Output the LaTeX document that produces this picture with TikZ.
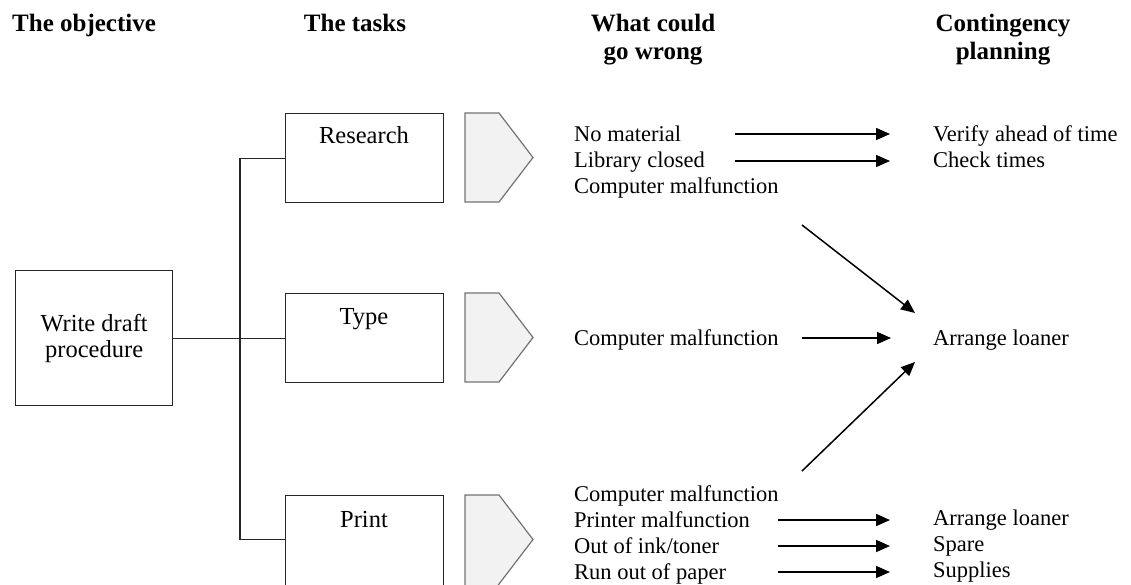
\documentclass[tikz,border=0pt]{standalone}
\usepackage{fontspec}
\setmainfont{Liberation Serif}
\usetikzlibrary{arrows.meta}
\begin{document}
\begin{tikzpicture}[x=1pt,y=-1pt,
  hdr/.style={font=\fontsize{25}{29}\selectfont\bfseries, anchor=base, inner sep=0pt},
  item/.style={font=\fontsize{22.5}{26}\selectfont, anchor=base west, inner sep=0pt},
  boxtext/.style={font=\fontsize{24.5}{28}\selectfont, anchor=base, inner sep=0pt},
  taskbox/.style={draw=black!85, line width=1.3pt, minimum width=158pt, minimum height=89pt,
                  inner sep=0pt, anchor=north west},
  link/.style={draw=black!85, line width=1.2pt},
  arr/.style={draw=black, line width=1.5pt, -{Triangle[length=14pt,width=12pt]}},
  pent/.style={draw=black!55, fill=black!5, line width=1.2pt, line join=miter}]

\useasboundingbox (0,0) rectangle (1131,584);
\clip (0,0) rectangle (1131,584);

% column headings
\node[hdr, anchor=base west] (hObj) at (12,31) {The objective};
\node[hdr] (hTask) at (355,31) {The tasks};
\node[hdr] (hWrong1) at (653,31) {What could};
\node[hdr] (hWrong2) at (653,59) {go wrong};
\node[hdr] (hPlan1) at (1003,31) {Contingency};
\node[hdr] (hPlan2) at (1003,59) {planning};

% objective and tasks
\node[draw=black!85, line width=1.3pt, minimum width=157pt, minimum height=135pt,
      anchor=north west, inner sep=0pt, align=center,
      font=\fontsize{24.5}{26}\selectfont] (write) at (15,270) {Write draft\\procedure};
\node[taskbox] (research) at (285,113) {};
\node[taskbox] (type) at (285,293) {};
\node[taskbox, minimum height=100pt] (print) at (285,495) {};
\node[boxtext] (researchT) at (364,143) {Research};
\node[boxtext] (typeT) at (364,324) {Type};
\node[boxtext] (printT) at (364,527) {Print};

% tree connectors
\coordinate (trunk) at (240,0);
\coordinate (printIn) at ([yshift=-44.5pt]print.north west);
\draw[link] (write.east) -- (type.west);
\draw[link] (research.west) -| (trunk |- printIn) -- (printIn);

% pentagon markers (the last one runs off the lower edge)
\foreach \py in {113,293}{
  \draw[pent] (465,\py) -- ++(34,0) -- ++(34,44.5) -- ++(-34,44.5) -- ++(-34,0) -- cycle;
}
\draw[pent] (465,495) -- ++(34,0) -- ++(34,44.5) -- ++(-34,44.5) -- ++(-4,6) -- (465,590) -- cycle;

% what could go wrong
\node[item] (w1) at (574,141) {No material};
\node[item] (w2) at (574,167) {Library closed};
\node[item] (w3) at (574,193.5) {Computer malfunction};
\node[item] (w4) at (574,345) {Computer malfunction};
\node[item] (w5) at (574,501) {Computer malfunction};
\node[item] (w6) at (574,527) {Printer malfunction};
\node[item] (w7) at (574,553) {Out of ink/toner};
\node[item] (w8) at (574,579) {Run out of paper};

% contingency planning
\node[item] (c1) at (933,141) {Verify ahead of time};
\node[item] (c2) at (933,167) {Check times};
\node[item] (c3) at (933,345) {Arrange loaner};
\node[item] (c4) at (933,525) {Arrange loaner};
\node[item] (c5) at (933,551) {Spare};
\node[item] (c6) at (933,577) {Supplies};

% arrow end points
\coordinate (s1) at (735,134);  \coordinate (e1) at (890,134);
\coordinate (s2) at (735,161);  \coordinate (e2) at (890,161);
\coordinate (s3) at (802,225);  \coordinate (e3) at (915,313);
\coordinate (s4) at (802,338);  \coordinate (e4) at (891,338);
\coordinate (s5) at (802,471);  \coordinate (e5) at (915,362);
\coordinate (s6) at (778,520);  \coordinate (e6) at (890,520);
\coordinate (s7) at (778,546);  \coordinate (e7) at (890,546);
\coordinate (s8) at (778,572);  \coordinate (e8) at (890,572);

\foreach \k in {1,...,8}{ \draw[arr] (s\k) -- (e\k); }
\end{tikzpicture}
\end{document}
